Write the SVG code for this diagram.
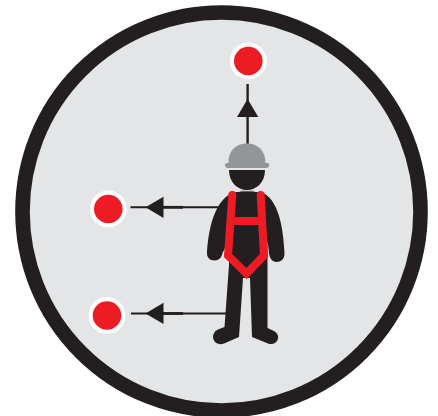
<svg xmlns="http://www.w3.org/2000/svg" width="438" height="416" viewBox="0 0 438 416">
<style>
.ink{fill:#231f20}
.lead{stroke:#231f20;stroke-width:1.9;fill:none}
.dot-o{fill:#fff}
.dot-i{fill:#ed1c24}
.strap{fill:none;stroke:#ed1c24;stroke-width:8;stroke-linejoin:miter}
</style>
<rect width="438" height="416" fill="#fff"/>
<circle id="ring" cx="221.5" cy="211.5" r="199" fill="#e4e5e7" stroke="#231f20" stroke-width="14.6"/>
<g id="connectors">
<path class="lead" style="stroke-width:2.4" d="M247.6 84V146"/>
<path class="ink" d="M247.6 99L258.3 117H237Z"/>
<path class="lead" d="M130.500 207.300H224"/>
<path class="lead" style="stroke-width:2.800" d="M160 207.300H183"/>
<path class="ink" d="M145.500 207.300L163.500 196.700V218Z"/>
<path class="lead" d="M131 313.500H226"/>
<path class="lead" style="stroke-width:2.800" d="M160 313.500H183"/>
<path class="ink" d="M145.500 313.500L163.500 302.700V324Z"/>
</g>
<g id="node-top"><circle class="dot-o" cx="248.300" cy="61" r="18.500"/><circle class="dot-i" cx="248.300" cy="61" r="14.300"/></g>
<g id="node-middle"><circle class="dot-o" cx="108.300" cy="209" r="18.500"/><circle class="dot-i" cx="108.300" cy="209" r="14.300"/></g>
<g id="node-bottom"><circle class="dot-o" cx="107" cy="315.500" r="18.500"/><circle class="dot-i" cx="107" cy="315.500" r="14.300"/></g>
<g id="worker">
<path fill="#939598" d="M228.500 163C228 151 236 143.500 247 143.500C258 143.500 265.500 151 265.500 163H268C269.500 163 269.500 165 268.800 166.500C268 168 267 168 265 168H229C226.500 168 225.500 167.500 225 165.500C224.800 164 225.500 163 227 163Z"/>
<path class="ink" d="M229 170H265C265 182 257 190 247 190C237 190 229 182 229 170Z"/>
<path fill="#a7a9ac" d="M240 190.500H254V193H240Z"/>
<path class="ink" d="M232 193C238 191 256 191 263 193C276 199 283 220 284.500 253C284.700 259 281 262 276.500 262C272 262 269.500 258 269 253L267.500 240V257L267.500 328L274 331C278 333.500 279 337 277.500 340C276 343.500 272 345 268 343.500L252 337L250 278H243L239 337L224 343.500C220 345 215 344 213.500 339.500C212 335 214.500 331 218 329.500L224.500 327L229 265V240L222.500 253C222 257 219 260.500 214.500 260.500C209.500 260.500 206.500 257 207 252C209 222 217 200 232 193Z"/>
<g id="harness">
<path class="strap" d="M232.300 195L228 255.500L246.500 273.500L264 255.500L260.700 195" stroke-linecap="round"/>
<path class="strap" d="M230 221H262"/>
</g>
</g>
</svg>
